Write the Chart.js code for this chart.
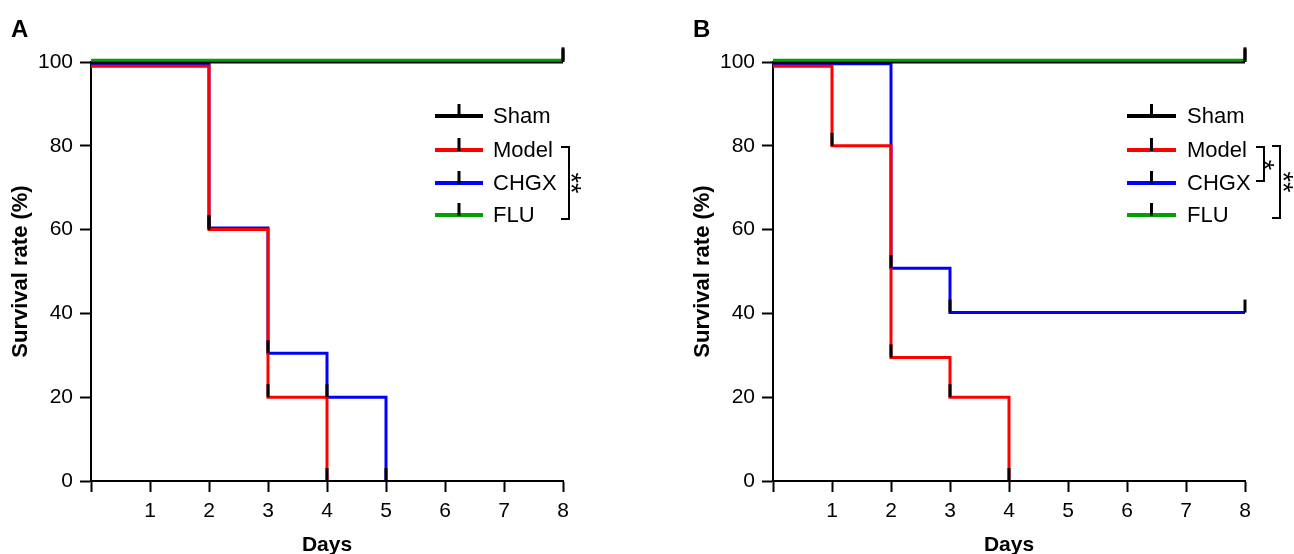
<!DOCTYPE html>
<html>
<head>
<meta charset="utf-8">
<script src="https://cdn.jsdelivr.net/npm/chart.js@4.4.1/dist/chart.umd.min.js"></script>
<style>
  body { margin: 0; background: #fff; }
  .panel { position: absolute; top: 0; width: 612px; height: 554px; }
</style>
</head>
<body>
<div class="panel" style="left:0"><canvas id="chartA" width="612" height="554"></canvas></div>
<div class="panel" style="left:682px"><canvas id="chartB" width="612" height="554"></canvas></div>
<script>
// data (survival %, by day)
const groups = ['Sham', 'Model', 'CHGX', 'FLU'];
const colors = ['#000000', '#ff0000', '#0000ff', '#00a000'];
const yTicks = [0, 20, 40, 60, 80, 100];

// panel A
const aShamDays = [0, 8];
const aShamRate = [100, 100];
const aModelDays = [0, 2, 3, 4];
const aModelRate = [99, 60, 20, 0];
const aChgxDays = [0, 2, 3, 4, 5];
const aChgxRate = [99.6, 60.4, 30.5, 20, 0];
const aFluDays = [0, 8];
const aFluRate = [100.4, 100.4];

// panel B
const bShamDays = [0, 8];
const bShamRate = [100, 100];
const bModelDays = [0, 1, 2, 3, 4];
const bModelRate = [99, 80, 29.5, 20, 0];
const bChgxDays = [0, 2, 3, 8];
const bChgxRate = [99.6, 50.8, 40.2, 40.2];
const bFluDays = [0, 8];
const bFluRate = [100.4, 100.4];

const FONT = '"Liberation Sans", Arial, sans-serif';

function toPoints(days, rate) {
  return days.map((d, i) => ({ x: d, y: rate[i] }));
}

// black censor ticks at each step of the curves
const censorTicks = {
  id: 'censorTicks',
  afterDatasetsDraw(chart) {
    const ctx = chart.ctx;
    const xs = chart.scales.x, ys = chart.scales.y;
    ctx.save();
    ctx.strokeStyle = '#000';
    ctx.lineWidth = 3;
    chart.data.datasets.forEach(ds => {
      ds.data.forEach((p, i) => {
        if (i === 0) return;
        const px = xs.getPixelForValue(p.x);
        const py = ys.getPixelForValue(p.y);
        ctx.beginPath();
        ctx.moveTo(px, py);
        ctx.lineTo(px, py - 13);
        ctx.stroke();
      });
    });
    ctx.restore();
  }
};

// hand drawn legend, brackets and panel letter
const panelDecor = {
  id: 'panelDecor',
  afterDraw(chart, args, opts) {
    const ctx = chart.ctx;
    ctx.save();
    // panel letter
    ctx.fillStyle = '#000';
    ctx.font = 'bold 24px ' + FONT;
    ctx.textBaseline = 'alphabetic';
    ctx.fillText(opts.letter, 11, 37);

    // legend
    ctx.font = '22px ' + FONT;
    ctx.textBaseline = 'middle';
    groups.forEach((g, i) => {
      const y = opts.rows[i];
      ctx.strokeStyle = colors[i];
      ctx.lineWidth = 4;
      ctx.beginPath();
      ctx.moveTo(opts.lineX0, y);
      ctx.lineTo(opts.lineX1, y);
      ctx.stroke();
      const mid = (opts.lineX0 + opts.lineX1) / 2;
      ctx.strokeStyle = '#000';
      ctx.lineWidth = 3;
      ctx.beginPath();
      ctx.moveTo(mid, y + 1);
      ctx.lineTo(mid, y - 12);
      ctx.stroke();
      ctx.fillStyle = '#000';
      ctx.fillText(g, opts.textX, y + 1);
    });

    // significance brackets, stars turned a quarter
    ctx.strokeStyle = '#000';
    ctx.lineWidth = 2;
    const starSize = 27;
    opts.brackets.forEach(b => {
      ctx.beginPath();
      ctx.moveTo(b.stub, b.top);
      ctx.lineTo(b.x, b.top);
      ctx.lineTo(b.x, b.bottom);
      ctx.lineTo(b.stub, b.bottom);
      ctx.stroke();
      ctx.save();
      ctx.translate(b.x + b.gap, b.starY || (b.top + b.bottom) / 2);
      ctx.rotate(Math.PI / 2);
      ctx.font = starSize + 'px ' + FONT;
      ctx.textAlign = 'center';
      ctx.textBaseline = 'alphabetic';
      ctx.fillStyle = '#000';
      ctx.fillText(b.label, 0, starSize * 0.57);
      ctx.restore();
    });
    ctx.restore();
  }
};

function makeChart(id, series, decor) {
  const datasets = series.map((s, i) => ({
    label: groups[i],
    data: toPoints(s[0], s[1]),
    borderColor: colors[i],
    borderWidth: 3,
    pointRadius: 0,
    stepped: 'before',
    fill: false,
    clip: false,
    order: [2, 1, 3, 0][i]
  }));

  return new Chart(document.getElementById(id), {
    type: 'line',
    data: { datasets },
    options: {
      responsive: false,
      animation: false,
      layout: { padding: { top: 62, right: 49, left: 0, bottom: 0 } },
      plugins: {
        legend: { display: false },
        tooltip: { enabled: false },
        panelDecor: decor
      },
      scales: {
        x: {
          type: 'linear',
          min: 0,
          max: 8,
          afterFit: sc => { sc.height = 73; },
          ticks: {
            stepSize: 1,
            color: '#000',
            font: { family: FONT, size: 21 },
            padding: 7,
            maxRotation: 0,
            callback: v => (v === 0 ? '' : v)
          },
          grid: { drawOnChartArea: false, drawTicks: true, tickLength: 11, tickWidth: 2, color: '#000' },
          border: { display: true, color: '#000', width: 2 },
          title: {
            display: true,
            text: 'Days',
            color: '#000',
            font: { family: FONT, size: 21, weight: 'bold', lineHeight: 0.8 },
            padding: { top: 0, bottom: 0 }
          }
        },
        y: {
          min: 0,
          max: 100,
          afterFit: sc => { sc.width = 91; },
          afterBuildTicks: sc => { sc.ticks = yTicks.map(v => ({ value: v })); },
          ticks: {
            color: '#000',
            font: { family: FONT, size: 21 },
            padding: 7
          },
          grid: { drawOnChartArea: false, drawTicks: true, tickLength: 11, tickWidth: 2, color: '#000' },
          border: { display: true, color: '#000', width: 2 },
          title: {
            display: true,
            text: 'Survival rate (%)',
            color: '#000',
            font: { family: FONT, size: 22, weight: 'bold', lineHeight: 1.2 },
            padding: { top: 8, bottom: 0 }
          }
        }
      }
    },
    plugins: [censorTicks, panelDecor]
  });
}

makeChart('chartA',
  [[aShamDays, aShamRate], [aModelDays, aModelRate], [aChgxDays, aChgxRate], [aFluDays, aFluRate]],
  {
    letter: 'A',
    rows: [116, 150, 183, 215],
    lineX0: 435, lineX1: 483, textX: 493,
    brackets: [{ x: 569, stub: 561, top: 147, bottom: 219, gap: 8, label: '**' }]
  });

makeChart('chartB',
  [[bShamDays, bShamRate], [bModelDays, bModelRate], [bChgxDays, bChgxRate], [bFluDays, bFluRate]],
  {
    letter: 'B',
    rows: [116, 150, 183, 215],
    lineX0: 445, lineX1: 494, textX: 505,
    brackets: [
      { x: 582, stub: 574, top: 147, bottom: 181, gap: 6, starY: 165, label: '*' },
      { x: 598, stub: 590, top: 146, bottom: 218, gap: 9, label: '**' }
    ]
  });
</script>
</body>
</html>
